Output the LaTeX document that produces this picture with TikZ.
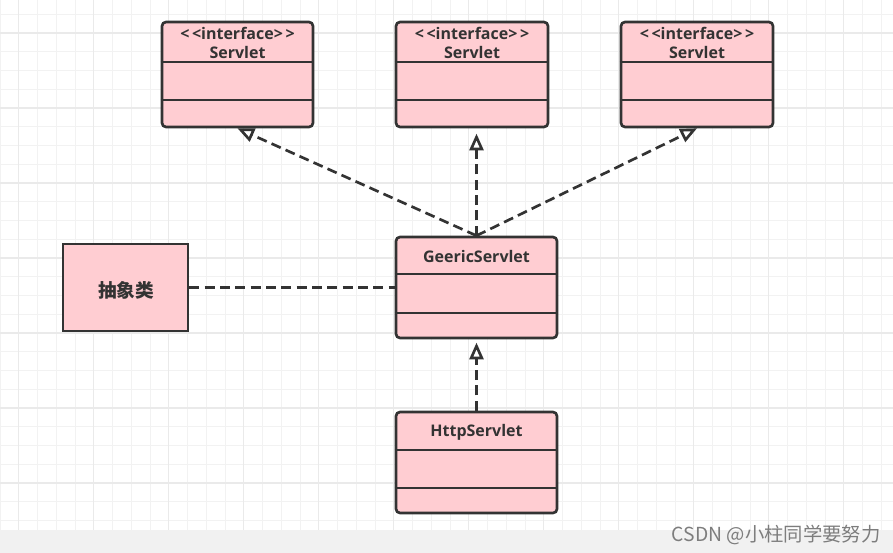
\documentclass[tikz,border=0pt]{standalone}
\usepackage{fontspec}
\setmainfont{Open Sans}
\newfontfamily\cjkfont{Noto Sans CJK SC}
\usetikzlibrary{arrows.meta}

\definecolor{boxpink}{RGB}{255,205,210}
\definecolor{boxedge}{RGB}{51,51,51}
\definecolor{gridminor}{RGB}{242,242,242}
\definecolor{gridmajor}{RGB}{234,234,234}
\definecolor{bandgray}{RGB}{241,241,241}
\definecolor{markgray}{RGB}{125,125,125}

\tikzset{every picture/.style={line width=0.75pt}}
\tikzset{
  umlclass/.style={draw=boxedge, fill=boxpink, line width=2pt, rounded corners=3pt, inner sep=0pt},
  abstractbox/.style={draw=boxedge, fill=boxpink, line width=2pt, inner sep=0pt},
  classtext/.style={text=boxedge, font=\bfseries\fontsize{12}{14}\selectfont, inner sep=0pt},
  realize/.style={draw=boxedge, line width=2pt, dash pattern=on 7.5pt off 4pt, -{Triangle[open,length=12.5pt,width=10.5pt,fill=white]}},
  assoc/.style={draw=boxedge, line width=2pt, dash pattern=on 7.5pt off 4pt},
  divider/.style={draw=boxedge, line width=2pt},
}

\begin{document}
\begin{tikzpicture}[x=0.75pt,y=0.75pt,yscale=-1,xscale=1]
	\useasboundingbox (0,0) rectangle (893,553);

	%Grid
	\foreach \n in {-1,...,46} { \draw[gridminor] (18.75+18.75*\n,0) -- (18.75+18.75*\n,530); }
	\foreach \m in {-1,...,26} { \draw[gridminor] (0,33+18.75*\m) -- (893,33+18.75*\m); }
	\foreach \n in {0,4,...,44} { \draw[gridmajor, line width=1pt] (18.75+18.75*\n,0) -- (18.75+18.75*\n,530); }
	\foreach \m in {0,4,...,24} { \draw[gridmajor, line width=1pt] (0,33+18.75*\m) -- (893,33+18.75*\m); }
	%Shape: Rectangle (bottom band)
	\fill[bandgray] (0,530) rectangle (893,553);

	%Shape: Class boxes
	\node[umlclass, minimum width=113.25pt, minimum height=78.75pt] (servletA) at (237.5,74.5) {};
	\node[umlclass, minimum width=114pt, minimum height=78.75pt] (servletB) at (472,74.5) {};
	\node[umlclass, minimum width=114pt, minimum height=78.75pt] (servletC) at (697,74.5) {};
	\node[umlclass, minimum width=120.75pt, minimum height=75.75pt] (generic) at (476.5,287.5) {};
	\node[umlclass, minimum width=120.75pt, minimum height=75.75pt] (http) at (476.5,462.5) {};
	%Shape: Rectangle
	\node[abstractbox, minimum width=93.75pt, minimum height=65.25pt] (abstract) at (125.5,287.5) {};

	%Dividers
	\foreach \b/\ya/\yb in {servletA/62/100, servletB/62/100, servletC/62/100, generic/274/313, http/450/488} {
		\draw[divider] (\b.west |- 0,\ya) -- (\b.east |- 0,\ya);
		\draw[divider] (\b.west |- 0,\yb) -- (\b.east |- 0,\yb);
	}

	% Text Node
	\node[classtext] (stereoA) at (237.5,33) {<\,<interface>\,>};
	\node[classtext] (nameA) at (237.5,52) {Servlet};
	\node[classtext] (stereoB) at (472,33) {<\,<interface>\,>};
	\node[classtext] (nameB) at (472,52) {Servlet};
	\node[classtext] (stereoC) at (697,33) {<\,<interface>\,>};
	\node[classtext] (nameC) at (697,52) {Servlet};
	\node[classtext] (nameG) at (476.5,256) {GeericServlet};
	\node[classtext] (nameH) at (476.5,432) {HttpServlet};
	\node[classtext, font=\cjkfont\bfseries\fontsize{14}{16}\selectfont] (nameAbs) at (126,290) {抽象类};

	%Straight Lines
	\draw[realize] (generic.north) -- (servletA.south);
	\draw[realize, shorten >=4pt] (generic.north) -- (generic.north |- servletB.south);
	\draw[realize] (generic.north) -- (servletC.south);
	\draw[realize, shorten >=2.5pt] (http.north) -- (generic.south);
	\draw[assoc] (abstract.east) -- (generic.west);

	% Text Node
	\node[text=markgray, font=\cjkfont\fontsize{14.5}{16}\selectfont, anchor=east, inner sep=0pt] (mark) at (881,535) {CSDN @小柱同学要努力};
\end{tikzpicture}
\end{document}
